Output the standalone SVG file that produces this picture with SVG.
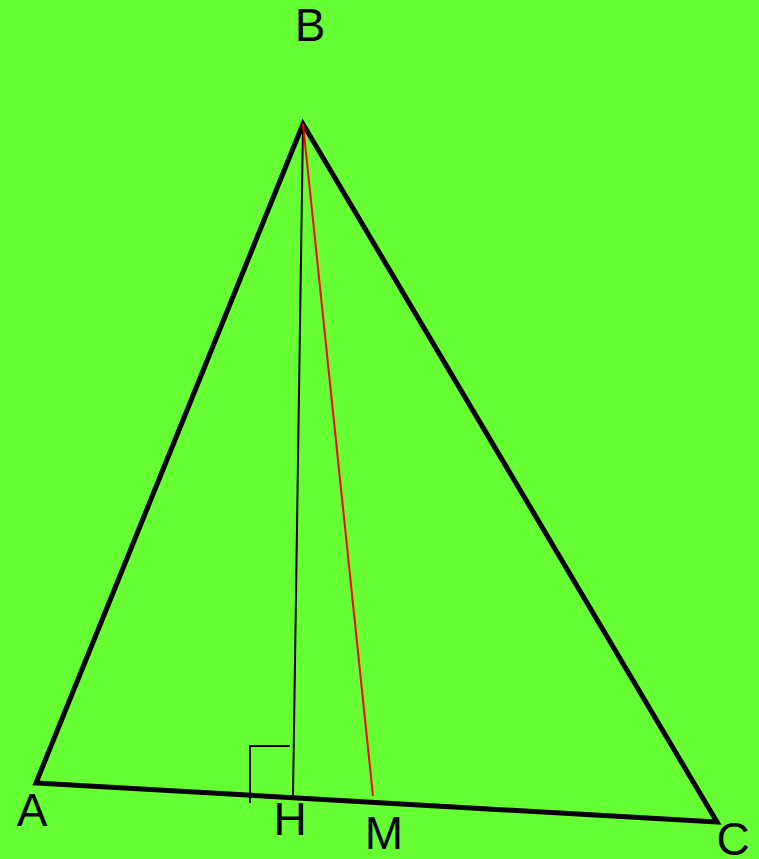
<svg xmlns="http://www.w3.org/2000/svg" width="759" height="859" viewBox="0 0 759 859">
<style>
.lbl{font-family:"Liberation Sans",Arial,sans-serif;font-size:46px;fill:#000;text-anchor:middle}
.thick{stroke:#000;stroke-width:5;fill:none;stroke-linejoin:miter}
.thin{stroke:#000;stroke-width:2;fill:none}
.red{stroke:#ff0000;stroke-width:2;fill:none}
</style>
<rect width="759" height="859" fill="#66ff33"/>
<g id="connectors">
<polygon class="thick" points="303,124 36,783 717,822"/>
<line id="altitude" class="thin" x1="303" y1="124" x2="293" y2="796"/>
<line id="median" class="red" x1="303" y1="124" x2="373" y2="796"/>
<polyline id="right-angle" class="thin" points="290,746 250,746 250,803"/>
</g>
<g id="B"><text class="lbl" x="310" y="41">B</text></g>
<g id="A"><text class="lbl" x="32" y="826">A</text></g>
<g id="H"><text class="lbl" x="290" y="835">H</text></g>
<g id="M"><text class="lbl" x="384" y="849">M</text></g>
<g id="C"><text class="lbl" x="733" y="855">C</text></g>
</svg>
